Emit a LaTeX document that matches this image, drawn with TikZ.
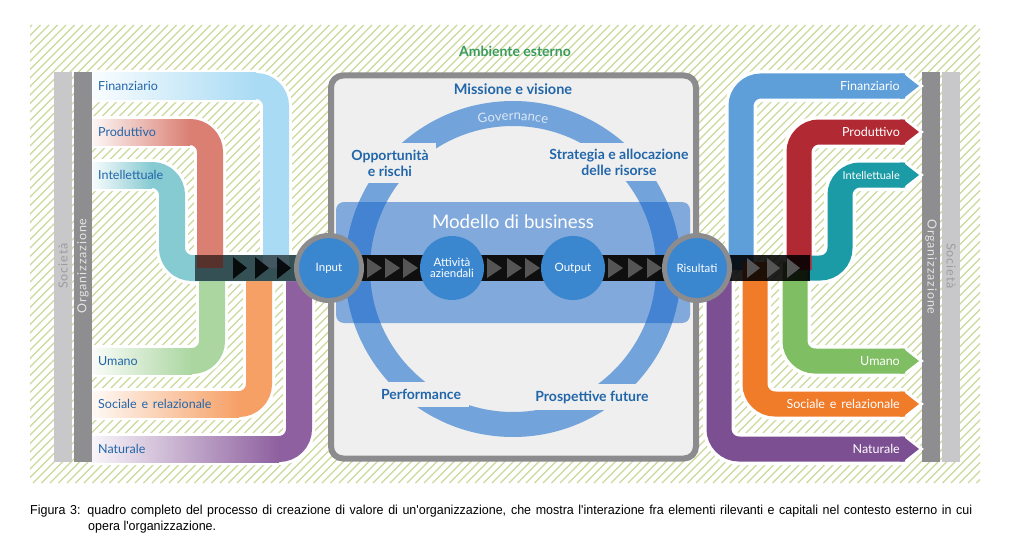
\documentclass[tikz,border=0pt]{standalone}
\usepackage{fontspec}
\setmainfont{Lato}
\newfontfamily\capfont[FakeStretch=0.96]{Liberation Sans}
\newfontfamily\barfont[LetterSpace=7]{Lato}
\newfontfamily\govfont[LetterSpace=12]{Lato}
\newfontfamily\lblfont[WordSpace=1.5]{Lato}
\usetikzlibrary{decorations.text}
\definecolor{hatch}{HTML}{CBD99B}
\definecolor{socgrey}{HTML}{C8C8CA}
\definecolor{soctext}{HTML}{9D9D9F}
\definecolor{orggrey}{HTML}{8E8E90}
\definecolor{orgtext}{HTML}{E4E4E4}
\definecolor{lblue}{HTML}{2266AA}
\definecolor{boxborder}{HTML}{8C8C8E}
\definecolor{boxfill}{HTML}{EFEFEF}
\definecolor{ringc}{HTML}{72A3DA}
\definecolor{modfill}{HTML}{1565C9}
\definecolor{circfill}{HTML}{3A86CF}
\definecolor{govtext}{HTML}{DCE8F6}
\definecolor{ambgreen}{HTML}{3A9B5C}
\definecolor{trigrey}{HTML}{555555}
\definecolor{rFin}{HTML}{5E9FD9}
\definecolor{rProd}{HTML}{B12A33}
\definecolor{rInt}{HTML}{1A9BA6}
\definecolor{rUma}{HTML}{7FBE62}
\definecolor{rSoc}{HTML}{F07C2A}
\definecolor{rNat}{HTML}{7C4E92}
\definecolor{lFin}{HTML}{A9DBF4}
\definecolor{lProd}{HTML}{DA7F72}
\definecolor{lInt}{HTML}{86CAD2}
\definecolor{lUma}{HTML}{ABD6A0}
\definecolor{lSoc}{HTML}{F6A066}
\definecolor{lNat}{HTML}{8E609F}
\tikzset{
  halo/.style={draw=white, line width=32pt, rounded corners=20pt},
  lband/.style={line width=26pt, rounded corners=20pt},
  rband/.style={line width=25pt, rounded corners=20pt},
  llabel/.style={anchor=base west, inner sep=0pt, text=lblue, font=\lblfont\fontsize{12.5}{14}\selectfont},
  rlabel/.style={anchor=base east, inner sep=0pt, text=white, font=\lblfont\fontsize{12.5}{14}\selectfont},
  bartext/.style={inner sep=0pt, font=\barfont\fontsize{12.5}{14}\selectfont},
  intext/.style={text=lblue, font=\bfseries\fontsize{14}{16}\selectfont, align=center, fill=boxfill, inner sep=0pt},
  circ/.style={circle, fill=circfill, text=white, minimum size=65pt, inner sep=0pt, align=center, font=\fontsize{11.5}{11}\selectfont},
  bordered/.style={draw=boxborder, line width=5pt},
  arrowhead/.style={draw=white, line width=6pt, line join=miter},
}
\begin{document}
\begin{tikzpicture}[x=1pt,y=-1pt]
\useasboundingbox (0,0) rectangle (1012,543);
\fill[white] (0,0) rectangle (1012,543);
% hatched environment
\begin{scope}
\clip (30,25) rectangle (980,483);
\foreach \i in {-460,-451.5,...,985} \draw[hatch, line width=1.1pt] (\i,483) -- ++(458,-458);
\end{scope}
\node[text=ambgreen, font=\bfseries\fontsize{14}{16}\selectfont] (amb) at (515,51) {Ambiente esterno};
% side bars
\fill[socgrey] (54,72) rectangle (72,462);
\fill[orggrey] (74,72) rectangle (92,462);
\fill[orggrey] (922,72) rectangle (940,462);
\fill[socgrey] (942,72) rectangle (960,462);
\node[bartext, text=soctext, rotate=90] (socL) at (63,266) {Società};
\node[bartext, text=orgtext, rotate=90] (orgL) at (83,266) {Organizzazione};
\node[bartext, text=orgtext, rotate=-90] (orgR) at (931,267) {Organizzazione};
\node[bartext, text=soctext, rotate=-90] (socR) at (951,266) {Società};
% halos left
\draw[halo] (92,86) -- (276,86) -- (276,268);
\draw[halo] (92,132) -- (210,132) -- (210,268);
\draw[halo] (92,175) -- (172,175) -- (172,268) -- (300,268);
\draw[halo] (92,361) -- (212,361) -- (212,268);
\draw[halo] (92,404) -- (259,404) -- (259,268);
\draw[halo] (92,449) -- (299,449) -- (299,268);
% halos right
\draw[halo] (741,268) -- (741,86) -- (905,86);
\draw[halo] (799,268) -- (799,132) -- (905,132);
\draw[halo] (800,268) -- (840,268) -- (840,175) -- (905,175);
\draw[halo] (795,268) -- (795,361) -- (905,361);
\draw[halo] (755,268) -- (755,404) -- (905,404);
\draw[halo] (719,268) -- (719,449) -- (905,449);
\foreach \y in {86,132,175,361,404,449}
  \draw[arrowhead] (900,\y-12.5) -- (903,\y-12.5) -- (919,\y) -- (903,\y+12.5) -- (900,\y+12.5);
% left bands
\draw[lband, lNat] (92,449) -- (299,449) -- (299,268);
\draw[lband, lSoc] (92,404) -- (259,404) -- (259,268);
\draw[lband, lUma] (92,361) -- (212,361) -- (212,268);
\draw[lband, lInt] (92,175) -- (172,175) -- (172,268) -- (300,268);
\draw[lband, lProd] (92,132) -- (210,132) -- (210,268);
\draw[lband, lFin] (92,86) -- (276,86) -- (276,268);
\shade[left color=lFin!6, right color=lFin] (92,73) rectangle (256,99);
\shade[left color=lProd!6, right color=lProd] (92,119) rectangle (190,145);
\shade[left color=lInt!6, right color=lInt] (92,162) rectangle (152,188);
\shade[left color=lUma!6, right color=lUma] (92,348) rectangle (192,374);
\shade[left color=lSoc!6, right color=lSoc] (92,391) rectangle (239,417);
\shade[left color=lNat!6, right color=lNat] (92,436) rectangle (279,462);
\node[llabel] (lFinT) at (98,90) {Finanziario};
\node[llabel] (lProdT) at (98,136) {Produttivo};
\node[llabel] (lIntT) at (98,179) {Intellettuale};
\node[llabel] (lUmaT) at (98,365) {Umano};
\node[llabel] (lSocT) at (98,408) {Sociale e relazionale};
\node[llabel] (lNatT) at (98,453) {Naturale};
% left dark band
\fill[black, opacity=0.6] (195,255) rectangle (300,281);
\foreach \x in {233,255,277} \fill[black, opacity=0.85] (\x,257) -- (\x+14,268) -- (\x,279) -- cycle;
% right bands
\draw[rband, rInt] (800,268) -- (840,268) -- (840,175) -- (905,175);
\draw[rband, rUma] (795,262) -- (795,361) -- (905,361);
\draw[rband, rProd] (799,270) -- (799,132) -- (905,132);
\draw[rband, rFin] (741,270) -- (741,86) -- (905,86);
\draw[rband, rSoc] (755,262) -- (755,404) -- (905,404);
\draw[rband, rNat] (719,262) -- (719,449) -- (905,449);
\foreach \y/\c in {86/rFin,132/rProd,175/rInt,361/rUma,404/rSoc,449/rNat}
  \fill[\c] (900,\y-12.5) -- (903,\y-12.5) -- (919,\y) -- (903,\y+12.5) -- (900,\y+12.5) -- cycle;
\node[rlabel] (rFinT) at (900,90) {Finanziario};
\node[rlabel] (rProdT) at (900,136) {Produttivo};
\node[rlabel, font=\lblfont\fontsize{11}{13}\selectfont] (rIntT) at (900,179) {Intellettuale};
\node[rlabel] (rUmaT) at (900,365) {Umano};
\node[rlabel] (rSocT) at (900,408) {Sociale e relazionale};
\node[rlabel] (rNatT) at (900,453) {Naturale};
\fill[black, opacity=0.88] (728,255) rectangle (810,281);
\foreach \x in {747,767,787} \fill[trigrey] (\x,258) -- (\x+13,268) -- (\x,278) -- cycle;
% central box
\draw[line width=6pt, draw=boxborder, fill=boxfill, rounded corners=12pt] (331,75.5) rectangle (696,458.5);
\draw[ringc, line width=25pt] (513,269) circle[radius=155.5];
\path[decorate, decoration={text along path, text={|\govfont\fontsize{13}{13}\selectfont|Governance}, text align=center, text color=govtext}]
  (513,269) ++(-115:149) arc[start angle=-115, end angle=-65, radius=149];
\node[text=lblue, font=\bfseries\fontsize{14.5}{16}\selectfont] (mis) at (513,89) {Missione e visione};
\node[intext, minimum width=92pt, minimum height=40pt] (opp) at (390,163) {Opportunità\\e rischi};
\node[intext, minimum width=146pt, minimum height=38pt] (str) at (619,162) {Strategia e allocazione\\delle risorse};
\node[intext, minimum width=96pt, minimum height=25pt] (perf) at (421,394) {Performance};
\node[intext, minimum width=126pt, minimum height=26pt] (pro) at (592,397) {Prospettive future};
\fill[modfill, fill opacity=0.5, rounded corners=8pt] (336,202) rectangle (690,323);
\node[text=white, font=\fontsize{18.7}{20}\selectfont] (mod) at (513,222) {Modello di business};
% business flow
\coordinate (cIn) at (329,268);
\coordinate (cAtt) at (452,268);
\coordinate (cOut) at (573,268);
\coordinate (cRis) at (697,268);
\fill[black!94] ([yshift=-13pt]cIn) rectangle ([yshift=13pt]cRis);
\foreach \x in {367,385,403,487,507,525,608,628,647} \fill[trigrey] (\x,258) -- (\x+15,268) -- (\x,278) -- cycle;
\node[circ, bordered] (input) at (cIn) {Input};
\node[circ, minimum size=64pt] (att) at (cAtt) {Attività\\aziendali};
\node[circ, minimum size=64pt] (outp) at (cOut) {Output};
\node[circ, bordered] (ris) at (cRis) {Risultati};
% caption
\node[anchor=base west, inner sep=0pt, font=\capfont\fontsize{13}{15}\selectfont] (cap1) at (30,514)
  {\makebox[942pt][s]{Figura 3: quadro completo del processo di creazione di valore di un'organizzazione, che mostra l'interazione fra elementi rilevanti e capitali nel contesto esterno in cui}};
\node[anchor=base west, inner sep=0pt, font=\capfont\fontsize{13}{15}\selectfont] (cap2) at (88,530) {opera l'organizzazione.};
\end{tikzpicture}
\end{document}
